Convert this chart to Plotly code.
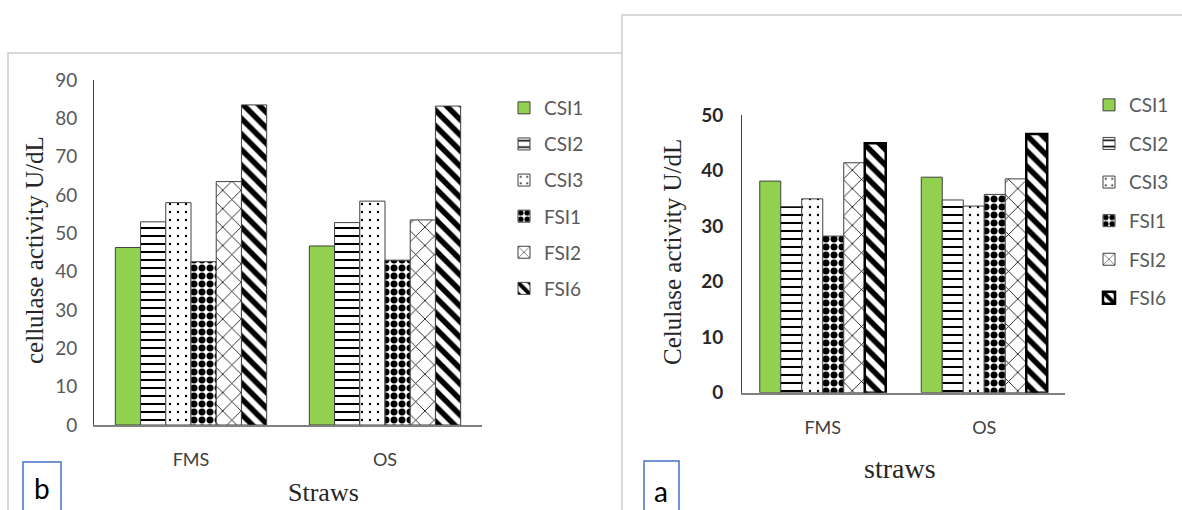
import plotly.graph_objects as go

categories = ["FMS", "OS"]
series_names = ["CSI1", "CSI2", "CSI3", "FSI1", "FSI2", "FSI6"]

# panel b (left)
b_CSI1 = [46.3, 46.7]
b_CSI2 = [53.0, 52.8]
b_CSI3 = [58.0, 58.4]
b_FSI1 = [42.6, 43.0]
b_FSI2 = [63.5, 53.5]
b_FSI6 = [83.5, 83.2]

# panel a (right)
a_CSI1 = [38.1, 38.8]
a_CSI2 = [33.5, 34.7]
a_CSI3 = [34.9, 33.6]
a_FSI1 = [28.2, 35.7]
a_FSI2 = [41.4, 38.5]
a_FSI6 = [44.9, 46.6]

b_ticks = [0, 10, 20, 30, 40, 50, 60, 70, 80, 90]
a_ticks = [0, 10, 20, 30, 40, 50]

b_values = [b_CSI1, b_CSI2, b_CSI3, b_FSI1, b_FSI2, b_FSI6]
a_values = [a_CSI1, a_CSI2, a_CSI3, a_FSI1, a_FSI2, a_FSI6]

W, H = 1182, 510
def px(x):
    return x / W
def py(y):
    return 1 - y / H

styles = {
    "CSI1": dict(color="#92D050", pattern=dict(shape="")),
    "CSI2": dict(color="white", pattern=dict(shape="-", fgcolor="black", bgcolor="white", fgopacity=1, size=8, solidity=0.25)),
    "CSI3": dict(color="white", pattern=dict(shape=".", fgcolor="black", bgcolor="white", fgopacity=1, size=8, solidity=0.07)),
    "FSI1": dict(color="white", pattern=dict(shape=".", fgcolor="black", bgcolor="white", fgopacity=1, size=8, solidity=0.6)),
    "FSI2": dict(color="white", pattern=dict(shape="x", fgcolor="black", bgcolor="white", fgopacity=1, size=13, solidity=0.12)),
    "FSI6": dict(color="white", pattern=dict(shape="\\", fgcolor="black", bgcolor="white", fgopacity=1, size=11, solidity=0.5)),
}

fig = go.Figure()

for name, vals in zip(series_names, b_values):
    st = styles[name]
    fig.add_trace(go.Bar(
        x=categories, y=vals, name=name, xaxis="x", yaxis="y",
        legend="legend", legendgroup="b_" + name,
        marker=dict(color=st["color"], pattern=st["pattern"],
                    line=dict(color="#404040", width=1)),
    ))

for name, vals in zip(series_names, a_values):
    st = styles[name]
    lw = 2.5 if name == "FSI6" else 1
    lc = "black" if name == "FSI6" else "#404040"
    fig.add_trace(go.Bar(
        x=categories, y=vals, name=name, xaxis="x2", yaxis="y2",
        legend="legend2", legendgroup="a_" + name,
        marker=dict(color=st["color"], pattern=st["pattern"],
                    line=dict(color=lc, width=lw)),
    ))

sans = "Lato, Open Sans, sans-serif"
tick_font_b = dict(family=sans, size=19, color="#595959")
tick_font_a = dict(family=sans, size=19, color="#262626", weight="bold")
cat_font = dict(family=sans, size=18, color="#404040")
serif = "Liberation Serif, Times New Roman, serif"

fig.update_layout(
    width=W, height=H,
    margin=dict(l=0, r=0, t=0, b=0, pad=0, autoexpand=False),
    paper_bgcolor="white", plot_bgcolor="white",
    barmode="group", bargap=0.22, bargroupgap=0,
    xaxis=dict(domain=[px(94), px(482)], anchor="y", showgrid=False, automargin=False,
               showline=True, linecolor="#808080", linewidth=1.5,
               ticks="", tickfont=cat_font, ticklabelstandoff=18),
    yaxis=dict(domain=[py(425), py(80)], anchor="x", range=[0, 90], automargin=False,
               tickvals=b_ticks, showgrid=False, zeroline=False,
               showline=True, linecolor="#404040", linewidth=1,
               ticks="", tickfont=tick_font_b, ticklabelstandoff=12),
    xaxis2=dict(domain=[px(742), px(1065)], anchor="y2", showgrid=False, automargin=False,
                showline=True, linecolor="#808080", linewidth=1.5,
                ticks="", tickfont=cat_font, ticklabelstandoff=18),
    yaxis2=dict(domain=[py(392.7), py(115)], anchor="x2", range=[0, 50], automargin=False,
                tickvals=a_ticks, showgrid=False, zeroline=False,
                showline=True, linecolor="#404040", linewidth=1,
                ticks="", tickfont=tick_font_a, ticklabelstandoff=14),
    legend=dict(x=px(504), y=py(89), xanchor="left", yanchor="top",
                traceorder="grouped", tracegroupgap=8.4,
                font=dict(family=sans, size=19, color="#595959"),
                bgcolor="rgba(0,0,0,0)"),
    legend2=dict(x=px(1089), y=py(86), xanchor="left", yanchor="top",
                 traceorder="grouped", tracegroupgap=10.9,
                 font=dict(family=sans, size=19, color="#595959"),
                 bgcolor="rgba(0,0,0,0)"),
    showlegend=True,
)

shapes = [
    # panel frames
    dict(type="rect", xref="paper", yref="paper", x0=px(8), x1=px(640), y0=py(530), y1=py(53),
         line=dict(color="#D9D9D9", width=2), fillcolor="rgba(0,0,0,0)", layer="below"),
    dict(type="rect", xref="paper", yref="paper", x0=px(622), x1=px(1200), y0=py(530), y1=py(15),
         line=dict(color="#D9D9D9", width=2), fillcolor="white", layer="below"),
    # label boxes
    dict(type="rect", xref="paper", yref="paper", x0=px(23), x1=px(61), y0=py(520), y1=py(462),
         line=dict(color="#4472C4", width=1.5), fillcolor="rgba(0,0,0,0)"),
    dict(type="rect", xref="paper", yref="paper", x0=px(644), x1=px(679), y0=py(520), y1=py(461),
         line=dict(color="#4472C4", width=1.5), fillcolor="rgba(0,0,0,0)"),
]
fig.update_layout(shapes=shapes)

def note(text, x, y, font, angle=0):
    return dict(text=text, x=px(x), y=py(y), xref="paper", yref="paper",
                xanchor="center", yanchor="middle", textangle=angle,
                showarrow=False, font=font)

annotations = [
    note("cellulase activity U/dL", 34, 250, dict(family=serif, size=25, color="#262626"), -90),
    note("Celulase activity U/dL", 672, 252, dict(family=serif, size=25, color="#262626"), -90),
    note("Straws", 323, 492, dict(family=serif, size=26, color="#262626")),
    note("straws", 900, 468, dict(family=serif, size=28, color="#262626")),
    note("b", 42, 488, dict(family=sans, size=28, color="black")),
    note("a", 661, 491, dict(family=sans, size=28, color="black")),
]
fig.update_layout(annotations=annotations)

fig.write_html(
    "out.html",
    config={"displayModeBar": False},
    post_script="document.body.style.margin='0';document.body.style.overflow='hidden';",
)
